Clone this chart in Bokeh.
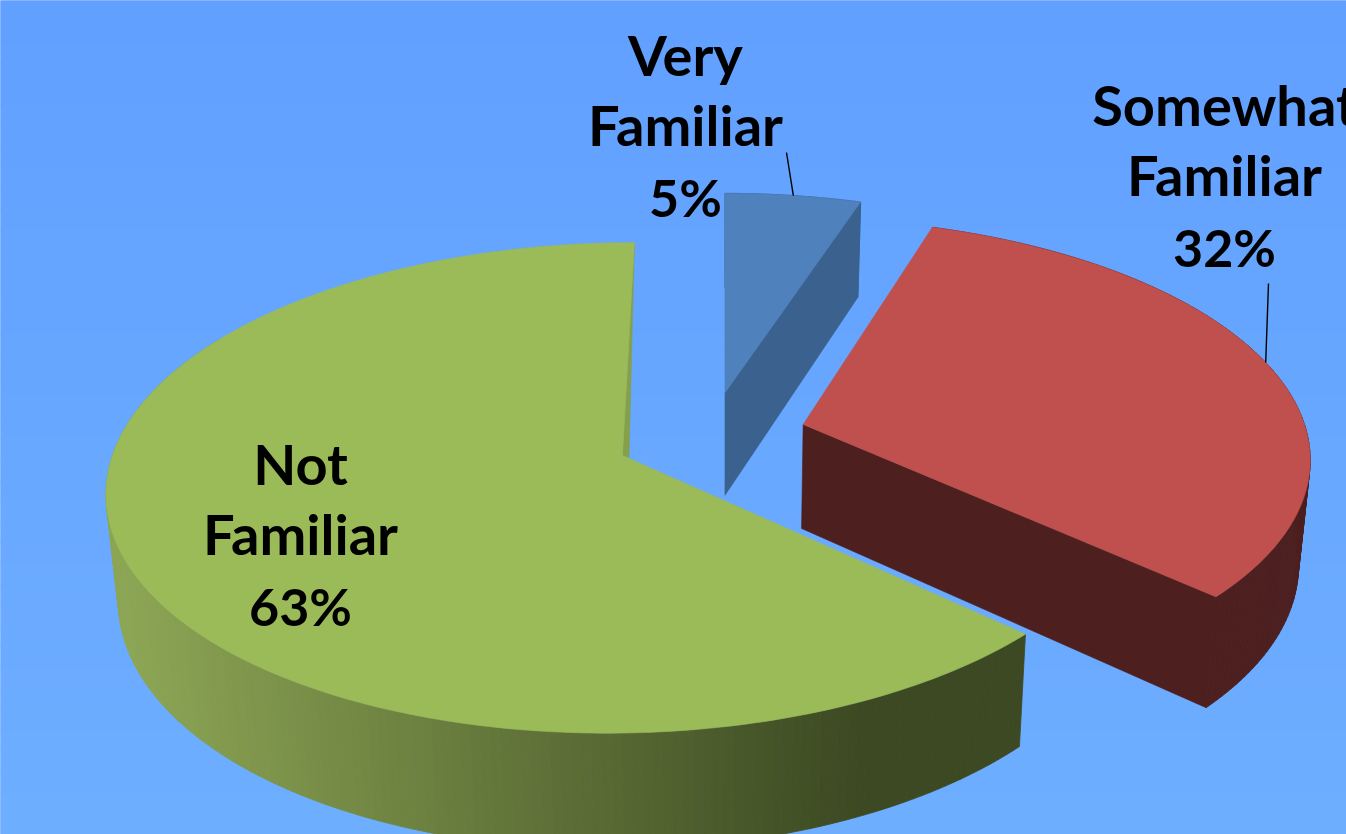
import math
from bokeh.core.properties import value
from bokeh.embed import file_html
from bokeh.models import Range1d
from bokeh.plotting import figure
from bokeh.resources import INLINE

# ---- data -------------------------------------------------------------
CATEGORIES = ["Very Familiar", "Somewhat Familiar", "Not Familiar"]
PERCENT = [5.0, 31.8, 63.2]

# ---- style / layout ----------------------------------------------------
W, H = 1346, 834
TOP_COLORS = ["#4F81BD", "#C0504D", "#9BBB59"]
WALL_COLORS = ["#3B618E", "#4D1F1F", None]
SLIVER = "#84A04A"
BG_TOP, BG_BOTTOM = (97, 160, 255), (110, 174, 255)
GRAD_L, GRAD_R = (141, 166, 84), (60, 73, 34)
GRAD_X = (120, 860)

VP_X, Y_C, RX, RY, PERSP = 724.0, 455.0, 510.0, 241.0, 0.132
X_SCALE, H_SLOPE, H_BASE = 0.98, 0.04, 87.0
EXPLODE = [(0.5, -0.27), (80.0, -0.1309), (-102.0, 0.0)]
WALL_VISIBLE_UNTIL = 300.0

LABEL_CX = [685, 1224, 300]
LABEL_BASE = [54, 104, 463]
LINE_H = 70
FONT_SIZE = "56px"
PCT_FONT_SIZE = "52px"
PCT_NUDGE = 2
LEADER_TOP = [(786, 152), (1268, 283)]
LEADER_T = [9, 74]


def project(t_deg, i, on_rim=True):
    x0, w0 = EXPLODE[i]
    t = math.radians(t_deg)
    xx = x0 + (RX * math.sin(t) if on_rim else 0.0)
    ww = w0 - (math.cos(t) if on_rim else 0.0)
    s = 1.0 / (1.0 - PERSP * ww)
    return VP_X + xx * s, Y_C + RY * ww * s


def lower(pt):
    x, y = pt
    return VP_X + (x - VP_X) * X_SCALE, y + H_SLOPE * y + H_BASE


def mix(a, b, f):
    f = max(0.0, min(1.0, f))
    return "#%02x%02x%02x" % tuple(round(a[k] + (b[k] - a[k]) * f) for k in range(3))


p = figure(width=W, height=H, output_backend="svg", toolbar_location=None,
           x_range=Range1d(0, W), y_range=Range1d(H, 0), min_border=0,
           min_border_left=0, min_border_right=0, min_border_top=0, min_border_bottom=0,
           outline_line_color=None, background_fill_color="#61A0FF",
           border_fill_color="#61A0FF",
           styles={"position": "absolute", "left": "0px", "top": "0px"})
p.axis.visible = False
p.grid.visible = False

# background gradient
n = 40
p.quad(left=-10, right=W + 10,
       top=[H * k / n - (10 if k == 0 else 0) for k in range(n)],
       bottom=[H * (k + 1) / n + (10 if k == n - 1 else 1) for k in range(n)],
       fill_color=[mix(BG_TOP, BG_BOTTOM, k / (n - 1)) for k in range(n)],
       line_color=None)

# slice angles from the values (clockwise from the back of the pie)
spans = []
a = 0.0
for v in PERCENT:
    spans.append((a, a + v * 3.6))
    a += v * 3.6


def draw_poly(pts, color):
    p.patch([q[0] for q in pts], [q[1] for q in pts], fill_color=color,
            line_color=color, line_width=0.6)


for i in range(3):
    t0, t1 = spans[i]
    steps = max(2, int((t1 - t0) / 1.0))
    ts = [t0 + (t1 - t0) * k / steps for k in range(steps + 1)]
    rim = [project(t, i) for t in ts]
    apex = project(0, i, on_rim=False)

    # outer wall
    xs, ys, cols = [], [], []
    for k in range(steps):
        if ts[k] > WALL_VISIBLE_UNTIL:
            continue
        a1, a2 = rim[k], rim[k + 1]
        b1, b2 = lower(a1), lower(a2)
        xs.append([a1[0], a2[0], b2[0], b1[0]])
        ys.append([a1[1], a2[1], b2[1], b1[1]])
        if i == 2:
            f = ((a1[0] + a2[0]) / 2 - GRAD_X[0]) / (GRAD_X[1] - GRAD_X[0])
            cols.append(mix(GRAD_L, GRAD_R, f))
        else:
            cols.append(WALL_COLORS[i])
    p.patches(xs, ys, fill_color=cols, line_color=cols, line_width=0.8)

    # cut face
    c = rim[-1]
    if i < 2:
        draw_poly([apex, c, lower(c), lower(apex)], WALL_COLORS[i])
    else:
        draw_poly([c, apex, (apex[0] + 6.5, apex[1] + 2)], SLIVER)

    # top face
    draw_poly([apex] + rim, TOP_COLORS[i])

# leader lines
for i in range(2):
    end = project(LEADER_T[i], i)
    p.line([LEADER_TOP[i][0], end[0]], [LEADER_TOP[i][1], end[1]],
           line_color="#000000", line_width=1.4)

# labels
wx, wy, wt, px, py, pt = [], [], [], [], [], []
for i, cat in enumerate(CATEGORIES):
    words = cat.split(" ")
    for j, w in enumerate(words):
        wx.append(LABEL_CX[i])
        wy.append(LABEL_BASE[i] + LINE_H * j)
        wt.append(w)
    px.append(LABEL_CX[i])
    py.append(LABEL_BASE[i] + LINE_H * len(words) + PCT_NUDGE)
    pt.append(f"{round(PERCENT[i])}%")
for xs_, ys_, ts_, size in ((wx, wy, wt, FONT_SIZE), (px, py, pt, PCT_FONT_SIZE)):
    p.text(x=xs_, y=ys_, text=ts_, text_align="center", text_baseline="alphabetic",
           text_font=value("Lato"), text_font_style="bold",
           text_font_size=size, text_color="#000000")

open("out.html", "w").write(file_html(p, INLINE))
